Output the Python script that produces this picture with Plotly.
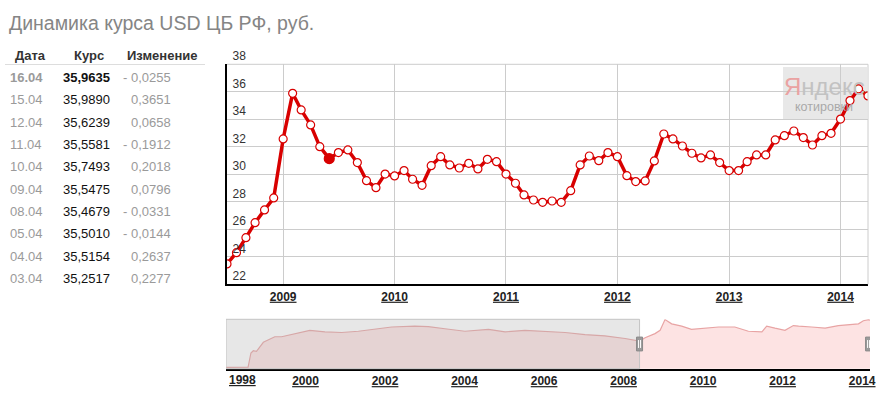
import plotly.graph_objects as go

W, H = 882, 399
FONT = "Arial, Liberation Sans, sans-serif"


def px(x):
    return x / W


def py(y):
    return 1 - y / H


# ---------------- data ----------------
title_text = "Динамика курса USD ЦБ РФ, руб."
table_headers = ["Дата", "Курс", "Изменение"]
table_dates = ["16.04", "15.04", "12.04", "11.04", "10.04", "09.04", "08.04", "05.04", "04.04", "03.04"]
table_rates = [35.9635, 35.9890, 35.6239, 35.5581, 35.7493, 35.5475, 35.4679, 35.5010, 35.5154, 35.2517]
table_changes = [-0.0255, 0.3651, 0.0658, -0.1912, 0.2018, 0.0796, -0.0331, -0.0144, 0.2637, 0.2277]

main_dates = [
    "2008-07-01", "2008-08-01", "2008-09-01", "2008-10-01", "2008-11-01", "2008-12-01",
    "2009-01-01", "2009-02-01", "2009-03-01", "2009-04-01", "2009-05-01", "2009-06-01",
    "2009-07-01", "2009-08-01", "2009-09-01", "2009-10-01", "2009-11-01", "2009-12-01",
    "2010-01-01", "2010-02-01", "2010-03-01", "2010-04-01", "2010-05-01", "2010-06-01",
    "2010-07-01", "2010-08-01", "2010-09-01", "2010-10-01", "2010-11-01", "2010-12-01",
    "2011-01-01", "2011-02-01", "2011-03-01", "2011-04-01", "2011-05-01", "2011-06-01",
    "2011-07-01", "2011-08-01", "2011-09-01", "2011-10-01", "2011-11-01", "2011-12-01",
    "2012-01-01", "2012-02-01", "2012-03-01", "2012-04-01", "2012-05-01", "2012-06-01",
    "2012-07-01", "2012-08-01", "2012-09-01", "2012-10-01", "2012-11-01", "2012-12-01",
    "2013-01-01", "2013-02-01", "2013-03-01", "2013-04-01", "2013-05-01", "2013-06-01",
    "2013-07-01", "2013-08-01", "2013-09-01", "2013-10-01", "2013-11-01", "2013-12-01",
    "2014-01-01", "2014-02-01", "2014-03-01", "2014-04-01",
]
main_values = [
    23.48, 24.30, 25.39, 26.48, 27.41, 28.28,
    32.57, 35.89, 34.68, 33.59, 32.01, 31.14,
    31.58, 31.77, 30.85, 29.54, 29.03, 30.02,
    29.88, 30.27, 29.64, 29.20, 30.63, 31.28,
    30.68, 30.46, 30.80, 30.39, 31.09, 30.92,
    30.02, 29.35, 28.50, 28.13, 27.96, 28.06,
    27.96, 28.81, 30.68, 31.33, 30.99, 31.58,
    31.28, 29.90, 29.47, 29.52, 30.97, 32.93,
    32.57, 32.06, 31.53, 31.19, 31.41, 30.85,
    30.27, 30.27, 30.92, 31.41, 31.41, 32.50,
    32.81, 33.15, 32.67, 32.13, 32.81, 32.98,
    34.02, 35.36, 36.21, 35.70,
]
highlight_date = "2009-06-01"
main_year_ticks = [2009, 2010, 2011, 2012, 2013, 2014]

nav_dates = [
    "1998-01-01", "1998-07-23", "1998-08-18", "1998-09-09", "1998-10-08", "1998-11-10",
    "1998-12-10", "1999-01-22", "1999-03-25", "1999-05-27", "1999-08-25", "1999-12-28",
    "2000-02-10", "2000-06-28", "2000-11-28", "2001-05-01", "2001-10-01", "2002-03-03",
    "2002-10-01", "2003-02-03", "2003-07-05", "2004-01-05", "2004-08-08", "2005-01-08",
    "2005-07-09", "2006-01-12", "2006-07-13", "2007-01-12", "2007-07-13", "2008-01-15",
    "2008-05-27", "2008-07-17", "2008-10-16", "2008-12-02", "2009-01-16", "2009-03-18",
    "2009-06-18", "2009-09-16", "2010-01-19", "2010-05-23", "2010-10-19", "2011-02-21",
    "2011-06-25", "2011-08-08", "2011-10-23", "2012-01-23", "2012-04-09", "2012-05-27",
    "2012-09-24", "2013-01-26", "2013-05-27", "2013-07-27", "2013-11-28", "2014-01-12",
    "2014-03-01", "2014-03-14",
]
nav_values = [
    6.0, 6.2, 15.2, 16.6, 16.2, 19.3,
    22.0, 23.4, 25.5, 25.5, 26.9, 28.6,
    29.6, 28.6, 28.2, 29.0, 30.2, 31.7,
    32.3, 31.9, 30.6, 29.0, 30.2, 28.6,
    29.6, 29.0, 28.2, 26.9, 26.1, 24.4,
    22.8, 24.9, 27.5, 29.6, 36.4, 33.7,
    32.3, 30.2, 31.0, 31.7, 31.7, 29.0,
    28.6, 32.3, 31.0, 29.6, 32.6, 32.2,
    31.7, 31.0, 32.6, 33.1, 33.7, 35.7,
    36.4, 36.0,
]
nav_year_ticks = [1998, 2000, 2002, 2004, 2006, 2008, 2010, 2012, 2014]
nav_range = ["1998-01-01", "2014-03-14"]
selection = ["2008-05-27", "2014-03-01"]

# ---------------- figure ----------------
RED = "#d80000"
fig = go.Figure()

fig.add_trace(go.Scatter(
    x=nav_dates, y=nav_values, xaxis="x2", yaxis="y2",
    mode="lines", line=dict(color="#e8a4a4", width=1.2),
    fill="tozeroy", fillcolor="#fde3e3", hoverinfo="skip",
))

marker_fill = [RED if d == highlight_date else "#ffffff" for d in main_dates]
marker_size = [10 if d == highlight_date else 8 for d in main_dates]
fig.add_trace(go.Scatter(
    x=main_dates, y=main_values, xaxis="x", yaxis="y",
    mode="lines+markers",
    line=dict(color=RED, width=3.5),
    marker=dict(color=marker_fill, size=marker_size, opacity=1,
                line=dict(color=RED, width=1.2)),
))

tickfont_year = dict(family=FONT, size=12, color="#222222", weight="bold", lineposition="under")

fig.update_layout(
    width=W, height=H,
    margin=dict(l=0, r=0, t=0, b=0, autoexpand=False),
    paper_bgcolor="white", plot_bgcolor="white",
    showlegend=False,
    font=dict(family=FONT),
    xaxis=dict(
        domain=[px(227), px(868)], anchor="y", type="date", automargin=False,
        range=[main_dates[0], main_dates[-1]],
        tickmode="array",
        tickvals=[f"{y}-01-01" for y in main_year_ticks],
        ticktext=[str(y) for y in main_year_ticks],
        tickfont=tickfont_year, ticks="",
        showgrid=True, gridcolor="#cccccc", gridwidth=1,
        showline=True, linecolor="#000000", linewidth=2, zeroline=False,
    ),
    yaxis=dict(
        domain=[py(284.3), py(64.3)], anchor="x", automargin=False,
        range=[22, 38], tick0=22, dtick=2,
        ticklabelposition="inside top", ticklabeloverflow="allow", ticks="",
        ticklabelstandoff=4,
        tickfont=dict(family=FONT, size=12, color="#333333"),
        showgrid=True, gridcolor="#cccccc", gridwidth=1,
        showline=True, linecolor="#000000", linewidth=2, zeroline=False,
    ),
    xaxis2=dict(
        domain=[px(226), px(870)], anchor="y2", type="date", automargin=False,
        range=nav_range,
        tickmode="array",
        tickvals=[f"{y}-01-01" for y in nav_year_ticks[1:]],
        ticktext=[str(y) for y in nav_year_ticks[1:]],
        tickfont=tickfont_year, ticks="",
        showgrid=False, showline=True, linecolor="#000000", linewidth=2, zeroline=False,
    ),
    yaxis2=dict(
        domain=[py(368.7), py(319.3)], anchor="x2", automargin=False,
        range=[5.2, 36.6], showgrid=False, showticklabels=False, zeroline=False,
    ),
)

shapes = [
    dict(type="line", xref="x domain", yref="y domain", x0=1, x1=1, y0=0, y1=1,
         line=dict(color="#cccccc", width=1)),
    dict(type="line", xref="x domain", yref="y domain", x0=0, x1=1, y0=1, y1=1,
         line=dict(color="#cccccc", width=1)),
    dict(type="rect", xref="paper", yref="paper", x0=px(783), x1=px(867), y0=py(120), y1=py(67),
         fillcolor="rgba(226,226,226,0.8)", line=dict(width=0), layer="between"),
    dict(type="rect", xref="x2", yref="y2 domain", x0=nav_range[0], x1=selection[0], y0=0, y1=1,
         fillcolor="rgba(176,176,176,0.30)", line=dict(color="#c4c4c4", width=1), layer="above"),
    dict(type="line", xref="paper", yref="paper", x0=px(5), x1=px(205), y0=py(64.5), y1=py(64.5),
         line=dict(color="#dddddd", width=1)),
]
for d in selection:
    shapes.append(dict(type="rect", xref="x2", yref="y2 domain", xsizemode="pixel", xanchor=d,
                       x0=-3, x1=3, y0=0.36, y1=0.64, fillcolor="#9a9a9a",
                       line=dict(color="#888888", width=1), layer="above"))
    for off in (-1, 1):
        shapes.append(dict(type="line", xref="x2", yref="y2 domain", xsizemode="pixel", xanchor=d,
                           x0=off, x1=off, y0=0.42, y1=0.58, line=dict(color="white", width=1),
                           layer="above"))
fig.update_layout(shapes=shapes)

ann = []
ann.append(dict(text=title_text, x=px(7), y=py(23), xref="paper", yref="paper",
                xanchor="left", yanchor="middle", showarrow=False,
                font=dict(family=FONT, size=19.5, color="#858585")))
for txt, xh in zip(table_headers, [13, 72, 125]):
    ann.append(dict(text="<b>" + txt + "</b>", x=px(xh), y=py(55), xref="paper", yref="paper",
                    xanchor="left", yanchor="middle", showarrow=False,
                    font=dict(family=FONT, size=13, color="#333")))


def fmt_num(v):
    return f"{abs(v):.4f}".replace(".", ",")


for i, (d, r, c) in enumerate(zip(table_dates, table_rates, table_changes)):
    yy = py(77.5 + 22.35 * i)
    bold = i == 0
    dtxt = f"<b>{d}</b>" if bold else d
    rtxt = f"<b>{fmt_num(r)}</b>" if bold else fmt_num(r)
    ctxt = ("- " if c < 0 else "") + fmt_num(c)
    ann.append(dict(text=dtxt, x=px(8), y=yy, xref="paper", yref="paper", xanchor="left",
                    yanchor="middle", showarrow=False, font=dict(family=FONT, size=13, color="#9a9a9a")))
    ann.append(dict(text=rtxt, x=px(111.5), y=yy, xref="paper", yref="paper", xanchor="right",
                    yanchor="middle", showarrow=False, font=dict(family=FONT, size=13, color="#111111")))
    ann.append(dict(text=ctxt, x=px(172.5), y=yy, xref="paper", yref="paper", xanchor="right",
                    yanchor="middle", showarrow=False, font=dict(family=FONT, size=13, color="#9a9a9a")))

ann.append(dict(text=str(nav_year_ticks[0]), x=nav_range[0], y=0, xref="x2", yref="y2 domain",
                xanchor="left", yanchor="top", yshift=-2, xshift=1, showarrow=False,
                font=tickfont_year))

ann.append(dict(text="<span style='color:#eaa2a2'>Я</span>ндекс", x=px(824), y=py(86),
                xref="paper", yref="paper", xanchor="center", yanchor="middle", showarrow=False,
                font=dict(family="Liberation Sans Narrow, Arial Narrow, " + FONT, size=24,
                          color="#c2c2c2")))
ann.append(dict(text="котировки", x=px(824), y=py(107), xref="paper", yref="paper",
                xanchor="center", yanchor="middle", showarrow=False,
                font=dict(family=FONT, size=12.5, color="#a8a8a8")))
fig.update_layout(annotations=ann)

fig.write_html("out.html", config={"displayModeBar": False},
               post_script="document.body.style.margin='0';document.body.style.overflow='hidden';")
